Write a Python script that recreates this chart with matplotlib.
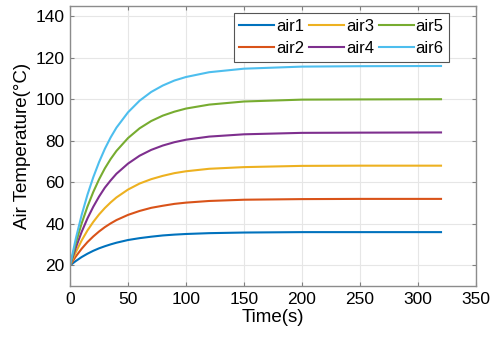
#%%
import numpy as np
import matplotlib.pyplot as plt

plt.rcParams['font.family'] = ['Liberation Sans', 'DejaVu Sans']

#%%
# valores
tempo = [0, 5, 10, 15, 20, 25, 30, 35, 40, 50, 60, 70, 80, 90, 100, 120, 150, 200, 250, 320]

air1 = [20, 22.1, 24.0, 25.6, 27.0, 28.2, 29.2, 30.1, 30.9, 32.2, 33.1, 33.8, 34.4, 34.8, 35.1, 35.5, 35.8, 36.0, 36.0, 36.0]
air2 = [20, 24.3, 28.0, 31.2, 33.9, 36.3, 38.4, 40.2, 41.8, 44.3, 46.2, 47.7, 48.7, 49.6, 50.2, 51.0, 51.6, 51.9, 52.0, 52.0]
air3 = [20, 26.4, 32.0, 36.8, 40.9, 44.5, 47.6, 50.3, 52.7, 56.5, 59.4, 61.5, 63.1, 64.4, 65.3, 66.5, 67.3, 67.9, 68.0, 68.0]
air4 = [20, 28.6, 36.1, 42.6, 48.2, 53.1, 57.4, 60.9, 64.1, 69.0, 72.8, 75.6, 77.7, 79.3, 80.5, 82.0, 83.1, 83.8, 83.9, 84.0]
air5 = [20, 30.8, 40.2, 48.3, 55.3, 61.4, 66.7, 71.2, 75.1, 81.3, 86.0, 89.5, 92.1, 94.0, 95.5, 97.4, 98.9, 99.8, 99.9, 100.0]
air6 = [20, 33.0, 44.3, 54.0, 62.4, 69.7, 76.1, 81.6, 86.3, 93.7, 99.3, 103.5, 106.6, 109.0, 110.7, 113.0, 114.7, 115.7, 115.9, 116.0]

series = [air1, air2, air3, air4, air5, air6]
nomes = ['air1', 'air2', 'air3', 'air4', 'air5', 'air6']
cores = ['#0072BD', '#D95319', '#EDB120', '#7E2F8E', '#77AC30', '#4DBEEE']

#%%
fig = plt.figure(figsize=(4.9, 3.39), dpi=100)
ax = fig.add_axes([0.143, 0.156, 0.828, 0.827])

for y, nome, cor in zip(series, nomes, cores):
    ax.plot(tempo, y, color=cor, lw=1.5, label=nome)

ax.set_xlim(0, 350)
ax.set_ylim(10, 145)
ax.set_xticks(np.arange(0, 351, 50))
ax.set_yticks(np.arange(20, 141, 20))
ax.grid(True, color='#e6e6e6', lw=0.8)
ax.set_axisbelow(True)

ax.tick_params(direction='in', top=True, right=True, length=3, width=0.8,
               color='#7f7f7f', labelsize=12.5, pad=4)
for s in ax.spines.values():
    s.set_color('#8c8c8c')
    s.set_linewidth(1.0)

ax.set_xlabel('Time(s)', fontsize=13.5, labelpad=2)
ax.set_ylabel('Air Temperature(°C)', fontsize=13.5, labelpad=3)

leg = ax.legend(ncol=3, loc='upper right', bbox_to_anchor=(0.935, 0.975),
                fontsize=12, frameon=True, fancybox=False, framealpha=1,
                edgecolor='#555555', handlelength=2.1, handletextpad=0.1,
                columnspacing=0.3, labelspacing=0.45, borderpad=0.35,
                borderaxespad=0)
leg.get_frame().set_linewidth(0.8)

fig.savefig('out.png', dpi=100)
